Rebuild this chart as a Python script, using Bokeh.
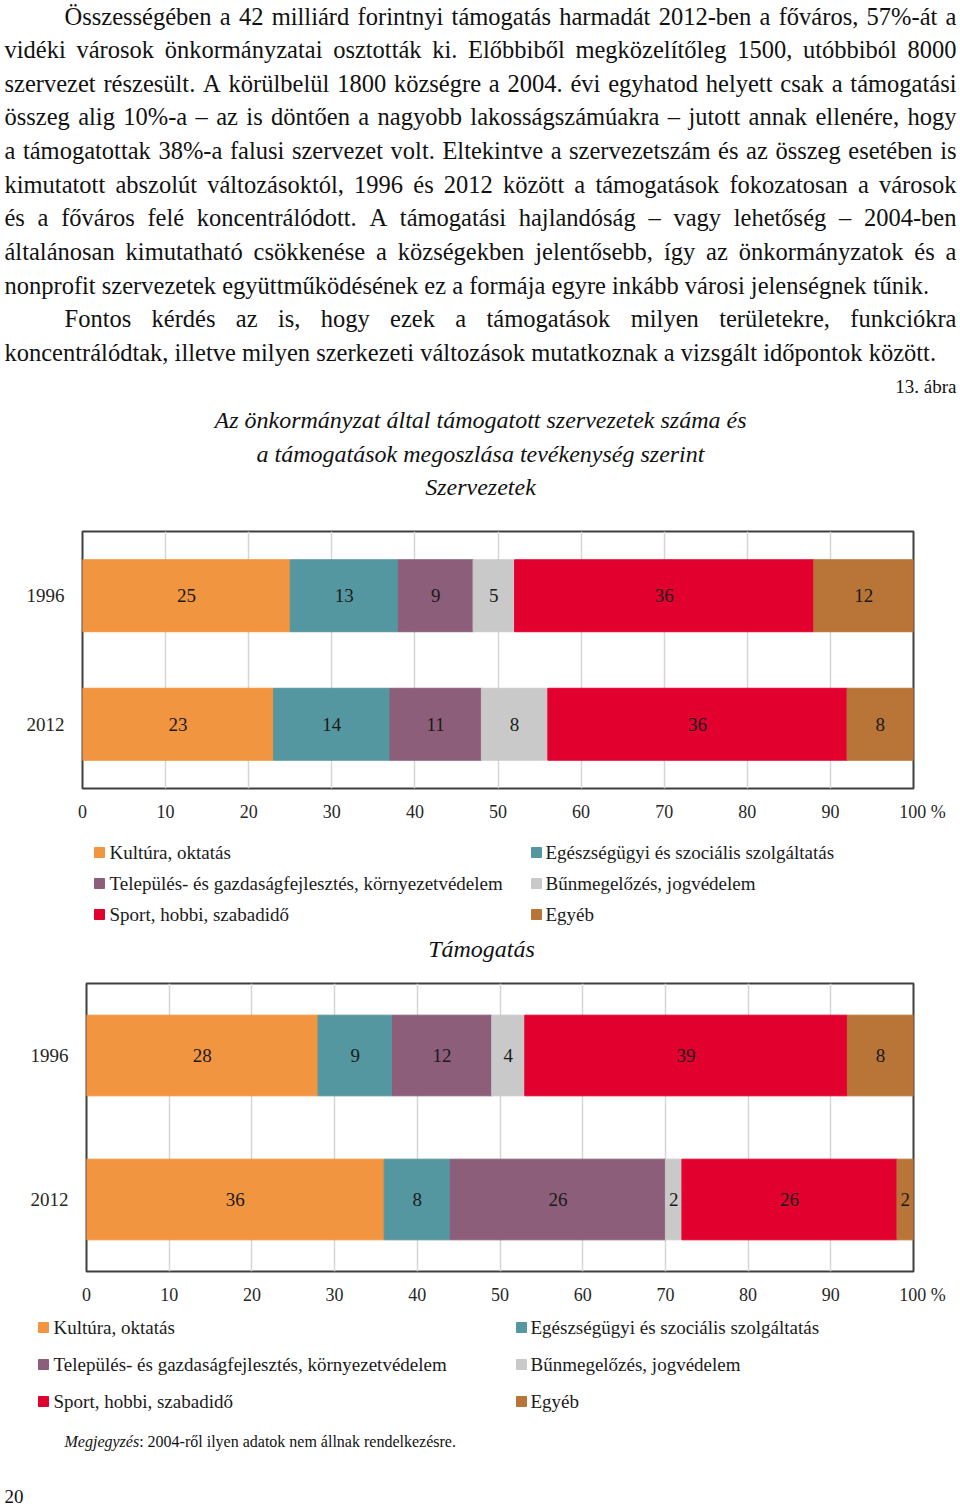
import unicodedata
from bokeh.plotting import figure
from bokeh.layouts import column
from bokeh.models import ColumnDataSource, FactorRange, Range1d, FixedTicker
from bokeh.core.properties import value
from bokeh.embed import file_html
from bokeh.resources import INLINE

SERIF = "Liberation Serif"
PAGE_W = 960

# ---------------- data ----------------
years = ["1996", "2012"]
categories = ["Kultúra, oktatás",
              "Egészségügyi és szociális szolgáltatás",
              "Település- és gazdaságfejlesztés, környezetvédelem",
              "Bűnmegelőzés, jogvédelem",
              "Sport, hobbi, szabadidő",
              "Egyéb"]
colors = ["#F29541", "#5597A0", "#8C5E7A", "#C9C9C9", "#E2002F", "#B97437"]
org_1996 = [25, 13, 9, 5, 36, 12]
org_2012 = [23, 14, 11, 8, 36, 8]
sup_1996 = [28, 9, 12, 4, 39, 8]
sup_2012 = [36, 8, 26, 2, 26, 2]
x_ticks = [0, 10, 20, 30, 40, 50, 60, 70, 80, 90, 100]
x_tick_labels = {100: "\u00a0\u00a0\u00a0\u00a0100 %"}

paragraph = [
    ("Összességében a 42 milliárd forintnyi támogatás harmadát 2012-ben a főváros, 57%-át a", True, True),
    ("vidéki városok önkormányzatai osztották ki. Előbbiből megközelítőleg 1500, utóbbiból 8000", False, True),
    ("szervezet részesült. A körülbelül 1800 községre a 2004. évi egyhatod helyett csak a támogatási", False, True),
    ("összeg alig 10%-a – az is döntően a nagyobb lakosságszámúakra – jutott annak ellenére, hogy", False, True),
    ("a támogatottak 38%-a falusi szervezet volt. Eltekintve a szervezetszám és az összeg esetében is", False, True),
    ("kimutatott abszolút változásoktól, 1996 és 2012 között a támogatások fokozatosan a városok", False, True),
    ("és a főváros felé koncentrálódott. A támogatási hajlandóság – vagy lehetőség – 2004-ben", False, True),
    ("általánosan kimutatható csökkenése a községekben jelentősebb, így az önkormányzatok és a", False, True),
    ("nonprofit szervezetek együttműködésének ez a formája egyre inkább városi jelenségnek tűnik.", False, False),
    ("Fontos kérdés az is, hogy ezek a támogatások milyen területekre, funkciókra", True, True),
    ("koncentrálódtak, illetve milyen szerkezeti változások mutatkoznak a vizsgált időpontok között.", False, False),
]
figure_no = "13. ábra"
title_lines = ["Az önkormányzat által támogatott szervezetek száma és",
               "a támogatások megoszlása tevékenység szerint",
               "Szervezetek"]
subtitle2 = "Támogatás"
note_italic = "Megjegyzés"
note_rest = ": 2004-ről ilyen adatok nem állnak rendelkezésre."
page_no = "20"

# ---------------- Times-compatible metrics (Liberation Serif) ----------------
_W = {' ': 250, '%': 833, ',': 250, '-': 333, '.': 250, ':': 278, '–': 500,
      'A': 722, 'E': 611, 'F': 556, 'K': 722, 'O': 722, 'M': 889, 'T': 611, 'S': 556,
      'a': 444, 'b': 500, 'c': 444, 'd': 500, 'e': 444, 'f': 333, 'g': 500, 'h': 500,
      'i': 278, 'j': 278, 'k': 500, 'l': 278, 'm': 778, 'n': 500, 'o': 500, 'p': 500,
      'q': 500, 'r': 333, 's': 389, 't': 278, 'u': 500, 'v': 500, 'w': 722, 'x': 500,
      'y': 500, 'z': 444}
_WI = {'M': 833, 'y': 444, 'z': 389}


def text_width(s, size, italic=False):
    tot = 0
    for ch in s:
        base = unicodedata.normalize("NFD", ch)[0]
        if base.isdigit():
            w = 500
        elif italic and base in _WI:
            w = _WI[base]
        else:
            w = _W.get(base, 500)
        tot += w
    return tot * size / 1000.0


def pixel_fig(top, bottom):
    p = figure(width=PAGE_W, height=bottom - top,
               x_range=Range1d(0, PAGE_W), y_range=Range1d(bottom, top),
               x_axis_location=None, y_axis_location=None,
               output_backend="svg", toolbar_location=None, min_border=0,
               frame_align=False)
    p.grid.visible = False
    p.outline_line_color = None
    p.background_fill_color = "white"
    p.border_fill_color = "white"
    return p


# ---------------- text block ----------------
pt = pixel_fig(0, 515)
FS = 24.5
LEFT, RIGHT, INDENT = 4, 956, 64
wx, wy, wt = [], [], []
for i, (line, indent, justify) in enumerate(paragraph):
    y = 15.5 + i * 33.65
    x0 = INDENT if indent else LEFT
    words = line.split(" ")
    ws = [text_width(w, FS) for w in words]
    if justify and len(words) > 1:
        gap = (RIGHT - x0 - sum(ws)) / (len(words) - 1)
    else:
        gap = text_width(" ", FS)
    x = x0
    for w, wd in zip(words, ws):
        wx.append(x); wy.append(y); wt.append(w)
        x += wd + gap
pt.text(x=wx, y=wy, text=wt, text_font=value(SERIF), text_font_size=f"{FS}px",
        text_align="left", text_baseline="middle", text_color="#111111")
pt.text(x=[RIGHT], y=[386], text=[figure_no], text_font=value(SERIF), text_font_size="19px",
        text_align="right", text_baseline="middle", text_color="#111111")
pt.text(x=[480, 480, 480], y=[419, 453, 486], text=title_lines, text_font=value(SERIF),
        text_font_size="24px", text_font_style="italic",
        text_align="center", text_baseline="middle", text_color="#111111")


# ---------------- charts ----------------
FRAME_RIGHT = 913


def chart(top, bottom, left, border_top, border_bottom, v96, v12):
    p = figure(width=PAGE_W, height=bottom - top,
               x_range=Range1d(0, 100), y_range=FactorRange(factors=["2012", "1996"]),
               output_backend="svg", toolbar_location=None,
               min_border_left=left, min_border_right=PAGE_W - FRAME_RIGHT,
               min_border_top=border_top, min_border_bottom=border_bottom,
               frame_align=False)
    keys = [f"c{i}" for i in range(len(categories))]
    data = {"year": years}
    for k, a, b in zip(keys, v96, v12):
        data[k] = [a, b]
    src = ColumnDataSource(data)
    p.hbar_stack(keys, y="year", height=0.56, color=colors, source=src)

    lx, ly, lt = [], [], []
    for yr, vals in zip(years, [v96, v12]):
        acc = 0
        for v in vals:
            lx.append(acc + v / 2.0); ly.append(yr); lt.append(str(v))
            acc += v
    p.text(x=lx, y=ly, text=lt, text_font=value(SERIF), text_font_size="19px",
           text_align="center", text_baseline="middle", text_color="#1a1a1a")

    p.xaxis.ticker = FixedTicker(ticks=x_ticks)
    p.xaxis.major_label_overrides = x_tick_labels
    p.xgrid.ticker = FixedTicker(ticks=x_ticks)
    p.xgrid.grid_line_color = "#d6d6d6"
    p.xgrid.grid_line_width = 1.5
    p.ygrid.grid_line_color = None
    for ax in (p.xaxis[0], p.yaxis[0]):
        ax.axis_line_color = None
        ax.major_tick_line_color = None
        ax.minor_tick_line_color = None
        ax.major_tick_in = 0
        ax.major_tick_out = 0
        ax.major_label_text_font = SERIF
        ax.major_label_text_color = "#262626"
    p.xaxis.major_label_text_font_size = "18px"
    p.xaxis.major_label_standoff = 13
    p.yaxis.major_label_text_font_size = "19px"
    p.yaxis.major_label_standoff = 18
    p.outline_line_color = "#3f3f3f"
    p.outline_line_width = 2
    p.background_fill_color = "white"
    p.border_fill_color = "white"
    return p


c1 = chart(515, 835, 82, 16, 47, org_1996, org_2012)


def legend_fig(top, bottom, rows_y, col_sq, col_tx):
    p = pixel_fig(top, bottom)
    sx, sy, tx, ty = [], [], [], []
    for i, cat in enumerate(categories):
        r, c = divmod(i, 2)
        sx.append(col_sq[c]); sy.append(rows_y[r])
        tx.append(col_tx[c]); ty.append(rows_y[r])
    p.scatter(x=sx, y=sy, marker="square", size=10, color=colors)
    p.text(x=tx, y=ty, text=categories, text_font=value(SERIF), text_font_size="19px",
           text_align="left", text_baseline="middle", text_color="#1a1a1a")
    return p


l1 = legend_fig(835, 970, [852, 883, 914], [99, 536], [109, 545])
l1.text(x=[481], y=[948], text=[subtitle2], text_font=value(SERIF), text_font_size="24px",
        text_font_style="italic", text_align="center", text_baseline="middle",
        text_color="#111111")

c2 = chart(970, 1310, 86, 13, 39, sup_1996, sup_2012)

l2 = legend_fig(1310, 1509, [1327, 1364, 1401], [43, 521], [53, 530])
NFS = 16
l2.text(x=[64], y=[1441], text=[note_italic], text_font=value(SERIF), text_font_size=f"{NFS}px",
        text_font_style="italic", text_align="left", text_baseline="middle", text_color="#111111")
l2.text(x=[64 + text_width(note_italic, NFS, italic=True)], y=[1441], text=[note_rest],
        text_font=value(SERIF), text_font_size=f"{NFS}px",
        text_align="left", text_baseline="middle", text_color="#111111")
l2.text(x=[4], y=[1496], text=[page_no], text_font=value(SERIF), text_font_size="19px",
        text_align="left", text_baseline="middle", text_color="#111111")

page = column(pt, c1, l1, c2, l2, spacing=0)
open("out.html", "w").write(file_html(page, INLINE))
